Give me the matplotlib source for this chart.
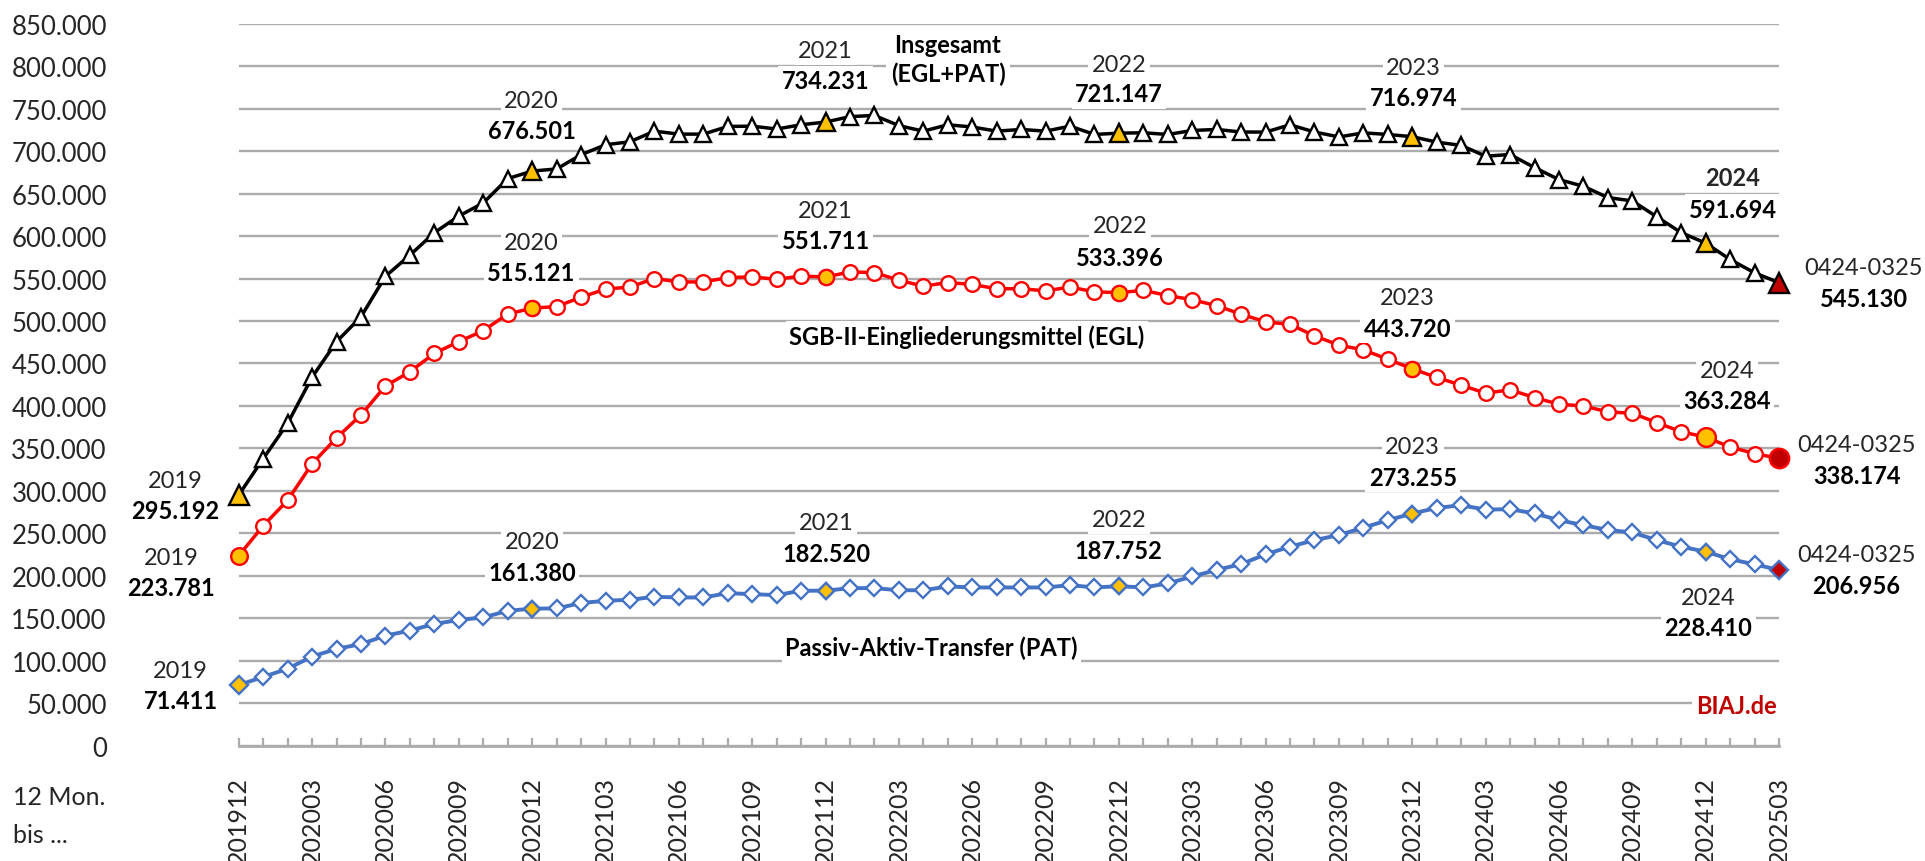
import matplotlib
matplotlib.use("Agg")
import matplotlib.pyplot as plt
import numpy as np
import pandas as pd

# ---------------- data (thousands) ----------------
months = [p.strftime("%Y%m") for p in pd.period_range("2019-12", "2025-03", freq="M")]

insgesamt = [295.192, 338, 379.6, 434, 475.7, 505, 552.7, 577.5, 604, 623.5, 639, 667.6,
             676.501, 679, 695.7, 707.5, 711, 723.5, 720, 720, 729, 729.4, 726, 731,
             734.231, 740.6, 742, 730, 723.5, 731, 728.4, 723.5, 725.5, 723.5, 729.4, 719.6,
             721.147, 721.6, 719.6, 724.3, 725.5, 722.5, 722.4, 731, 722.5, 716.7, 721.5, 719.6,
             716.974, 710.6, 706.7, 694, 696, 680.6, 666.5, 658.6, 645.3, 641.4, 622.7, 604,
             591.694, 572.4, 556.7, 545.130]

egl = [223.781, 259, 289, 332, 362.5, 389.4, 423.5, 440.2, 462, 475.7, 488.6, 508.2,
       515.121, 517, 528, 537.5, 540, 550, 546, 546, 551, 552, 549, 553,
       551.711, 557.8, 557, 548, 541, 545.3, 543, 538, 538, 535.5, 540, 534.3,
       533.396, 536, 530, 525, 518, 508, 499, 496, 482.5, 471.6, 466, 455,
       443.720, 433.5, 424.5, 415, 419, 409.8, 402, 400, 393, 391.4, 380.4, 369.6,
       363.284, 351.6, 344, 338.174]

pat = [71.411, 81, 90.6, 105, 114, 119.6, 129.6, 135.5, 143.3, 148, 151, 158.8,
       161.380, 161.6, 168, 170.6, 171.8, 175.3, 174.5, 174.5, 179.6, 178.4, 177.3, 182.4,
       182.520, 185.5, 185.5, 183, 183, 187.5, 186.3, 186.3, 186.3, 186.3, 189, 186.3,
       187.752, 186.3, 191, 199.2, 207, 213.7, 225.3, 234.3, 242, 248, 256.7, 265.5,
       273.255, 280, 283, 278, 278.4, 273.5, 265.5, 259.6, 254, 251, 242, 234.3,
       228.410, 219.6, 213.5, 206.956]

yticks = list(range(0, 850001, 50000))
year_names = ["2019", "2020", "2021", "2022", "2023", "2024", "0424-0325"]

# ---------------- style ----------------
plt.rcParams['font.family'] = ['Lato', 'DejaVu Sans']
W, H = 1925, 862
GRID = '#ABABAB'
ORANGE = '#FFC000'
DARKRED = '#C00000'
BLUE = '#4472C4'
TXT = '#262626'

fig = plt.figure(figsize=(W / 100, H / 100), dpi=100)
L, R, T, B = 238.8, 1779.0, 24.7, 746.7
ax = fig.add_axes([L / W, 1 - B / H, (R - L) / W, (B - T) / H])

x = np.arange(len(months))
hi_idx = [i for i in range(len(months)) if months[i].endswith("12")]


def series(vals, color, marker, ms, mew, hi_sizes, last_size, last_fc, zo, lw=2.5):
    v = np.asarray(vals) * 1000
    ax.plot(x, v, color=color, lw=lw, zorder=zo, clip_on=False)
    ax.plot(x, v, ls='none', marker=marker, ms=ms, mfc='white', mec=color,
            mew=mew, zorder=zo + 0.1, clip_on=False)
    for k, i in enumerate(hi_idx):
        ax.plot([x[i]], [v[i]], ls='none', marker=marker, ms=hi_sizes[k], mfc=ORANGE, mec=color,
                mew=mew, zorder=zo + 0.2, clip_on=False)
    ax.plot([x[-1]], [v[-1]], ls='none', marker=marker, ms=last_size, mfc=last_fc, mec=color,
            mew=mew, zorder=zo + 0.2, clip_on=False)


series(insgesamt, 'black', '^', 12, 1.7, [14, 13, 13, 13, 13, 13], 14, DARKRED, 5)
series(egl, '#FF0000', 'o', 10.5, 1.7, [12, 11, 11, 11, 11, 13.5], 14, DARKRED, 4)
series(pat, BLUE, 'D', 7.8, 1.7, [9, 8.5, 8.5, 8.5, 8.5, 8.5], 9, DARKRED, 3, lw=2.8)

ax.set_xlim(0, len(months) - 1)
ax.set_ylim(0, 850000)
ax.set_yticks(yticks)
ax.set_yticklabels([f"{v:,}".replace(",", ".") for v in yticks])
ax.set_xticks(x)
ax.set_xticklabels([m if i % 3 == 0 else '' for i, m in enumerate(months)])
ax.tick_params(axis='x', direction='in', length=6, width=1.6, color=GRID, pad=22,
               labelsize=18, labelrotation=90, labelcolor=TXT)
ax.tick_params(axis='y', length=0, pad=95, labelsize=18.5, labelcolor=TXT)
ax.set_axisbelow(True)
ax.yaxis.grid(True, color=GRID, lw=1.7)
ax.xaxis.grid(False)
for s in ('top', 'right', 'left'):
    ax.spines[s].set_visible(False)
ax.spines['bottom'].set_color(GRID)
ax.spines['bottom'].set_linewidth(2)


def fmt(v):
    return f"{round(v * 1000):,}".replace(",", ".")


def label(px, py, s, bold=False, size=17, color=TXT, ha='center'):
    fig.text(px / W, 1 - py / H, s, ha=ha, va='center', fontsize=size,
             fontweight='bold' if bold else 'normal', color=color,
             bbox=dict(fc='white', ec='none', pad=2.5), zorder=6)


def pair(px, py1, py2, name, value, bold_name=False):
    label(px, py1, name, bold=bold_name)
    label(px, py2, value, bold=True, color='black')


idx = hi_idx + [len(months) - 1]

# Insgesamt labels
pos_tot = [(175.5, 481.7, 511.7), (531.5, 101.7, 131.7), (825.5, 51.7, 81.7), (1119, 65, 95),
           (1413.5, 68.3, 98.3), (1733, 178.3, 210), (1863.7, 268.3, 300)]
for k, (px, a, b) in enumerate(pos_tot):
    pair(px, a, b, year_names[k], fmt(insgesamt[idx[k]]), bold_name=(year_names[k] == "2024"))

pos_egl = [(171.5, 558.3, 588.3), (531.5, 243.3, 273.3), (825.7, 211.7, 241.7), (1120, 226.7, 258.3),
           (1407.6, 298.3, 329.3), (1727, 371.7, 401.7), (1856.6, 445.7, 476.7)]
for k, (px, a, b) in enumerate(pos_egl):
    pair(px, a, b, year_names[k], fmt(egl[idx[k]]))

pos_pat = [(180.8, 671.7, 701.7), (532, 542.7, 573.3), (826.3, 524, 554), (1118.75, 520.7, 551.7),
           (1412.7, 447.7, 478.3), (1708.4, 598.3, 628.3), (1856.6, 556, 586.7)]
for k, (px, a, b) in enumerate(pos_pat):
    pair(px, a, b, year_names[k], fmt(pat[idx[k]]))

# series names
fig.text(948 / W, 1 - 60 / H, "Insgesamt\n(EGL+PAT)", ha='center', va='center', fontsize=17,
         fontweight='bold', color='black', linespacing=1.3,
         bbox=dict(fc='white', ec='none', pad=3), zorder=6)
label(966.7, 337.3, "SGB-II-Eingliederungsmittel (EGL)", bold=True, color='black')
label(931.7, 648.3, "Passiv-Aktiv-Transfer (PAT)", bold=True, color='black')
label(1736, 706.7, "BIAJ.de", bold=True, color=DARKRED)

# left bottom caption
fig.text(13 / W, 1 - 798 / H, "12 Mon.", ha='left', va='center', fontsize=18, color=TXT)
fig.text(13 / W, 1 - 836 / H, "bis ...", ha='left', va='center', fontsize=18, color=TXT)

fig.savefig("out.png", dpi=100)
